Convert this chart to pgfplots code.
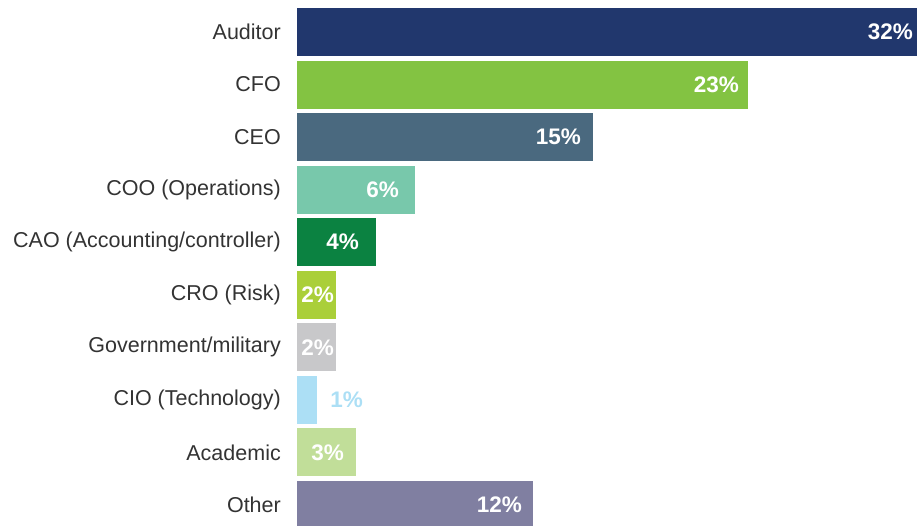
\documentclass[border=0pt]{standalone}
\usepackage{pgfplots}
\pgfplotsset{compat=1.18}
\usepackage{fontspec}
\setmainfont{Liberation Sans}
\definecolor{cAud}{HTML}{21376D}
\definecolor{cCFO}{HTML}{83C342}
\definecolor{cCEO}{HTML}{4A697F}
\definecolor{cCOO}{HTML}{78C8AB}
\definecolor{cCAO}{HTML}{0B8241}
\definecolor{cCRO}{HTML}{AACF39}
\definecolor{cGov}{HTML}{C8C8CA}
\definecolor{cCIO}{HTML}{ACDFF5}
\definecolor{cAca}{HTML}{C1DE99}
\definecolor{cOth}{HTML}{807FA1}
\definecolor{labgray}{HTML}{333333}
\begin{document}
\begin{tikzpicture}
\useasboundingbox (0,0) rectangle (917pt,525pt);
\begin{axis}[
  at={(297pt,0pt)}, anchor=south west,
  width=620pt, height=525pt, scale only axis,
  xmin=0, xmax=31.47, ymin=-0.609, ymax=9.38, y dir=reverse,
  axis line style={draw=none},
  xtick=\empty,
  ytick={0,1,2,3,4,5,6,7,8,9},
  yticklabels={Auditor,CFO,CEO,COO (Operations),CAO (Accounting/controller),CRO (Risk),Government/military,CIO (Technology),Academic,Other},
  major tick length=0pt, ytick style={draw=none},
  yticklabel style={font=\fontsize{21.5}{25}\selectfont, text=labgray, inner sep=0pt, anchor=east, xshift=-16pt},
  clip=false,
]
\addplot[xbar, bar width=48pt, bar shift=0pt, fill=cAud, draw=none] coordinates {(31.47,0)};
\addplot[xbar, bar width=48pt, bar shift=0pt, fill=cCFO, draw=none] coordinates {(22.9,1)};
\addplot[xbar, bar width=48pt, bar shift=0pt, fill=cCEO, draw=none] coordinates {(15.0,2)};
\addplot[xbar, bar width=48pt, bar shift=0pt, fill=cCOO, draw=none] coordinates {(6.0,3)};
\addplot[xbar, bar width=48pt, bar shift=0pt, fill=cCAO, draw=none] coordinates {(4.0,4)};
\addplot[xbar, bar width=48pt, bar shift=0pt, fill=cCRO, draw=none] coordinates {(2.0,5)};
\addplot[xbar, bar width=48pt, bar shift=0pt, fill=cGov, draw=none] coordinates {(2.0,6)};
\addplot[xbar, bar width=48pt, bar shift=0pt, fill=cCIO, draw=none] coordinates {(1.0,7)};
\addplot[xbar, bar width=48pt, bar shift=0pt, fill=cAca, draw=none] coordinates {(3.0,8)};
\addplot[xbar, bar width=48pt, bar shift=0pt, fill=cOth, draw=none] coordinates {(12.0,9)};
% value labels (right edge positions)
\addplot[draw=none, mark=none, nodes near coords, point meta=explicit symbolic,
  nodes near coords style={anchor=east, inner sep=0pt, text=white, font=\fontsize{22.5}{26}\selectfont\bfseries}]
  coordinates {(31.27,0) [32\%] (22.44,1) [23\%] (14.42,2) [15\%] (5.18,3) [6\%] (3.15,4) [4\%] (1.88,5) [2\%] (1.88,6) [2\%] (2.39,8) [3\%] (11.42,9) [12\%]};
\addplot[draw=none, mark=none, nodes near coords, point meta=explicit symbolic,
  nodes near coords style={anchor=east, inner sep=0pt, text=cCIO, font=\fontsize{22.5}{26}\selectfont\bfseries}]
  coordinates {(3.35,7) [1\%]};
\end{axis}
\end{tikzpicture}
\end{document}
